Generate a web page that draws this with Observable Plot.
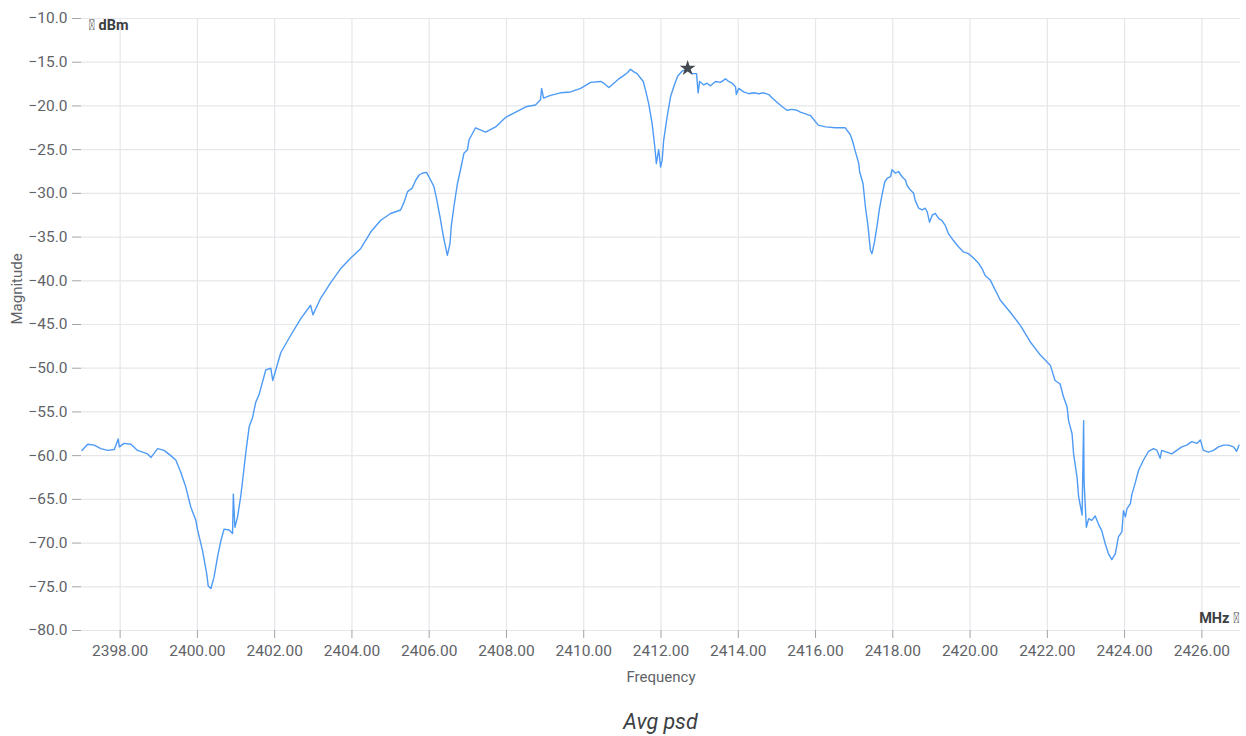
<!DOCTYPE html>
<html>
<head>
<meta charset="utf-8">
<script src="https://cdn.jsdelivr.net/npm/d3@7"></script>
<script src="https://cdn.jsdelivr.net/npm/@observablehq/plot@0.6"></script>
<style>
  body { margin: 0; background: #fff; font-family: Roboto, sans-serif; }
  #caption { margin-left: 81px; width: 1159px; text-align: center; font-style: italic; font-size: 21.5px; color: #3c4043; margin-top: 9px; }
</style>
</head>
<body>
<div id="chart"></div>
<div id="caption">Avg psd</div>
<script>
const freq = [
  2397.01,2397.16,2397.33,2397.50,2397.68,2397.85,2397.95,2397.98,2398.10,2398.28,2398.45,2398.71,2398.80,2398.97,2399.14,2399.31,2399.44,2399.57,2399.70,2399.83,2399.96,
  2400.00,2400.13,2400.24,2400.28,2400.35,2400.43,2400.52,2400.61,2400.69,2400.82,2400.91,2400.93,2400.97,2401.04,2401.12,2401.19,2401.26,2401.34,2401.43,2401.51,
  2401.59,2401.77,2401.90,2401.95,2402.16,2402.42,2402.68,2402.93,2402.99,2403.19,2403.45,2403.71,2403.97,2404.23,2404.49,2404.74,2405.00,
  2405.26,2405.35,2405.44,2405.56,2405.65,2405.74,2405.82,2405.93,2406.04,2406.12,2406.19,2406.28,2406.37,2406.47,2406.54,2406.57,2406.64,2406.73,2406.81,2406.90,2406.99,2407.03,
  2407.20,2407.46,2407.72,2407.98,2408.24,2408.50,2408.75,2408.88,2408.91,2408.96,2409.14,2409.40,2409.66,2409.92,2410.18,
  2410.44,2410.52,2410.65,2410.78,2410.91,2411.04,2411.13,2411.21,2411.30,2411.38,2411.47,2411.54,2411.60,2411.68,2411.77,2411.84,2411.88,2411.94,2411.99,2412.03,2412.07,2412.16,2412.25,2412.33,2412.43,2412.55,2412.69,
  2412.81,2412.92,2412.96,2413.00,2413.11,2413.19,2413.28,2413.41,2413.54,2413.67,2413.75,2413.84,2413.93,2413.95,2414.01,2414.14,2414.27,2414.40,2414.53,2414.66,2414.79,2414.88,2415.01,2415.14,2415.26,2415.39,2415.52,2415.61,
  2415.87,2416.07,2416.26,2416.51,2416.77,2416.90,
  2416.95,2417.03,2417.12,2417.14,2417.23,2417.29,2417.36,2417.42,2417.46,2417.52,2417.59,2417.65,2417.72,2417.79,2417.85,2417.94,2417.98,2418.07,2418.15,2418.24,2418.33,2418.37,2418.45,2418.54,2418.58,2418.67,2418.76,2418.84,2418.89,2418.95,2419.02,2419.10,2419.19,2419.27,2419.36,2419.44,2419.57,2419.70,2419.83,2419.96,2420.09,2420.22,2420.31,2420.39,2420.52,2420.61,
  2420.78,2421.04,2421.30,2421.56,2421.82,2422.08,
  2422.20,2422.33,2422.42,2422.51,2422.55,2422.64,2422.68,2422.77,2422.81,2422.90,2422.94,2422.95,2423.01,2423.07,2423.15,2423.24,2423.32,2423.41,2423.50,2423.58,2423.67,2423.76,2423.84,2423.93,2423.97,2424.02,2424.06,2424.15,2424.19,2424.27,2424.36,2424.49,2424.62,2424.75,2424.84,2424.92,2424.96,2425.09,2425.22,2425.35,2425.48,2425.61,2425.74,2425.87,2425.96,2426.04,2426.17,2426.30,2426.43,2426.56,2426.69,2426.82,2426.90,2426.96
];
const psd = [
  -59.4,-58.7,-58.8,-59.2,-59.4,-59.3,-58.1,-59.0,-58.6,-58.7,-59.4,-59.8,-60.2,-59.2,-59.4,-60.0,-60.5,-61.9,-63.6,-65.9,-67.4,
  -68.4,-70.8,-73.5,-74.9,-75.2,-73.9,-71.6,-69.7,-68.4,-68.5,-68.9,-64.4,-68.2,-67.0,-64.7,-62.1,-59.4,-56.7,-55.6,-53.9,
  -53.1,-50.2,-50.0,-51.4,-48.2,-46.2,-44.3,-42.8,-43.9,-42.0,-40.2,-38.6,-37.4,-36.3,-34.4,-33.1,-32.3,
  -31.9,-31.0,-29.8,-29.4,-28.5,-27.9,-27.7,-27.6,-28.5,-29.2,-30.6,-32.7,-35.0,-37.1,-35.7,-33.8,-31.5,-28.9,-27.3,-25.4,-25.0,-23.9,
  -22.5,-23.0,-22.4,-21.3,-20.7,-20.1,-19.9,-19.3,-18.0,-19.1,-18.8,-18.5,-18.4,-18.0,-17.3,
  -17.2,-17.4,-17.9,-17.4,-16.9,-16.5,-16.2,-15.8,-16.1,-16.3,-16.8,-17.2,-18.2,-19.7,-22.0,-24.7,-26.6,-25.0,-27.0,-26.2,-23.9,-21.2,-18.9,-17.8,-16.6,-16.0,-15.8,
  -16.3,-16.3,-18.5,-17.2,-17.6,-17.4,-17.7,-17.2,-17.3,-16.9,-17.2,-17.4,-17.8,-18.7,-18.0,-18.4,-18.6,-18.5,-18.6,-18.5,-18.7,-19.1,-19.6,-20.1,-20.5,-20.4,-20.5,-20.7,
  -21.1,-22.2,-22.4,-22.5,-22.5,-23.3,
  -23.9,-25.2,-26.6,-27.5,-28.9,-31.5,-33.8,-36.5,-36.9,-35.7,-33.8,-31.9,-30.2,-28.7,-28.3,-28.1,-27.3,-27.7,-27.5,-28.1,-28.5,-29.1,-29.6,-30.0,-30.8,-31.7,-31.9,-31.7,-32.1,-33.3,-32.5,-32.3,-32.9,-33.1,-33.7,-34.6,-35.4,-36.1,-36.7,-36.9,-37.4,-38.0,-38.6,-39.4,-39.9,-40.7,
  -42.2,-43.6,-45.1,-47.0,-48.5,-49.7,
  -51.4,-51.8,-53.3,-54.4,-56.0,-57.5,-59.8,-62.5,-64.7,-66.8,-56.0,-62.9,-68.2,-67.2,-67.4,-66.9,-67.8,-68.6,-70.1,-71.2,-71.9,-71.2,-69.3,-68.7,-66.3,-67.0,-66.1,-65.5,-64.4,-63.2,-61.7,-60.5,-59.5,-59.2,-59.4,-60.3,-59.4,-59.6,-59.8,-59.4,-59.0,-58.8,-58.4,-58.6,-58.2,-59.4,-59.6,-59.4,-59.0,-58.8,-58.8,-59.0,-59.5,-58.8
];
const peak = [{f: 2412.69, v: -15.7}];
const xTicks = [2398,2400,2402,2404,2406,2408,2410,2412,2414,2416,2418,2420,2422,2424,2426];
const yTicks = [-80,-75,-70,-65,-60,-55,-50,-45,-40,-35,-30,-25,-20,-15,-10];
const xLabel = "Frequency";
const yLabel = "Magnitude";
const yUnit = "\uE5C7 dBm";
const xUnit = "MHz \uE5C8";

const data = freq.map((f, i) => ({f, v: psd[i]}));
const grid = "#e6e7ea";
const textColor = "#5f6368";

const chart = Plot.plot({
  width: 1246,
  height: 700,
  marginLeft: 81,
  marginRight: 6,
  marginTop: 18,
  marginBottom: 70,
  style: {fontFamily: "Roboto, sans-serif", fontSize: "15px", color: textColor, background: "#fff"},
  x: {domain: [2397, 2427]},
  y: {domain: [-80, -10]},
  marks: [
    Plot.gridX(xTicks, {stroke: grid, strokeOpacity: 1, strokeWidth: 1.2}),
    Plot.gridY(yTicks, {stroke: grid, strokeOpacity: 1, strokeWidth: 1.2}),
    Plot.axisX(xTicks, {tickFormat: d3.format(".2f"), tickSize: 8, tickPadding: 6, stroke: "#a0a4a8", fill: textColor, fontSize: 15.5, label: null}),
    Plot.axisY(yTicks, {tickFormat: d3.format(".1f"), tickSize: 9, tickPadding: 5, stroke: "#a0a4a8", fill: textColor, fontSize: 15.5, label: null}),
    Plot.line(data, {x: "f", y: "v", stroke: "#4e9bf5", strokeWidth: 1.4}),
    Plot.dot(peak, {x: "f", y: "v", symbol: "star", r: 5, fill: "#454a50", stroke: "none"}),
    Plot.text([xLabel], {frameAnchor: "bottom", dy: 51, fill: textColor, fontSize: 15}),
    Plot.text([yLabel], {frameAnchor: "left", dx: -64, rotate: -90, fill: textColor, fontSize: 15}),
    Plot.text([yUnit], {frameAnchor: "top-left", textAnchor: "start", dx: 7, dy: 8, lineAnchor: "middle", fill: "#3c4043", fontWeight: "bold", fontSize: 14.5})
      ,
    Plot.text([xUnit], {frameAnchor: "bottom-right", textAnchor: "end", dx: -1, dy: -13, fill: "#3c4043", fontWeight: "bold", fontSize: 14.5})
  ]
});
document.getElementById("chart").appendChild(chart);
// frameAnchor-based text uses lineAnchor relative to anchor; nudge unit labels to match reference
chart.querySelectorAll("text").forEach(t => {
  if (t.textContent === yUnit) t.setAttribute("dy", "-0.1em");
  if (t.textContent === xUnit) t.setAttribute("dy", "0.35em");
});
</script>
</body>
</html>
